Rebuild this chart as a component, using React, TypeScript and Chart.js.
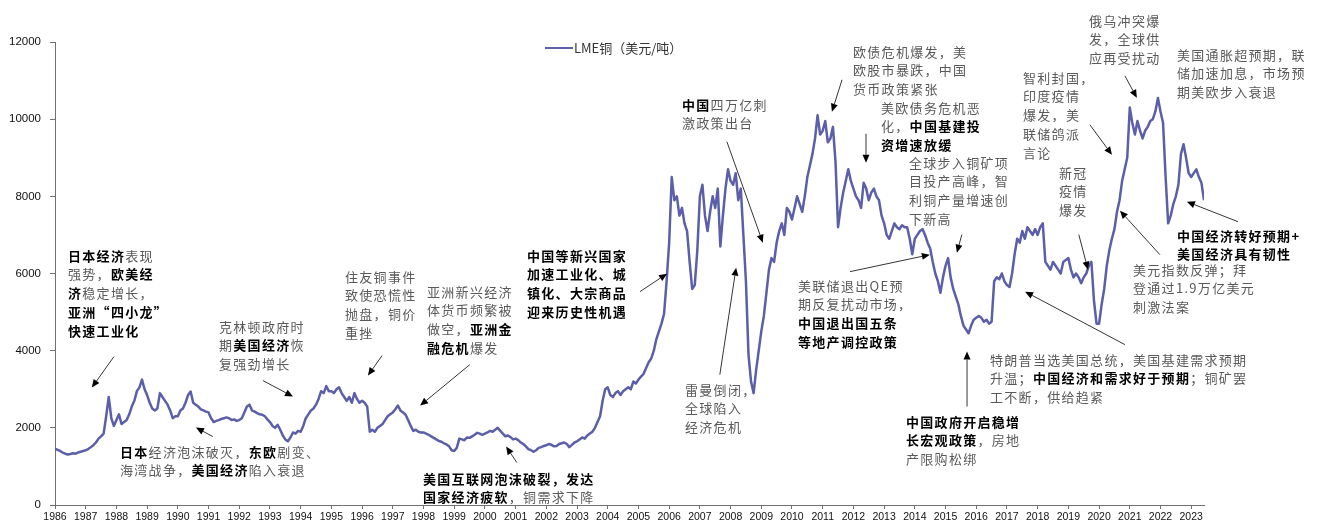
import React, { useEffect, useRef } from "react";
import { Chart, registerables } from "chart.js";

Chart.register(...registerables);

// ---------- DATA (monthly LME copper, USD/t) ----------
const START_YEAR = 1986;
const cu1986_1990 = [
  1460, 1430, 1400, 1360, 1330, 1310, 1320, 1340, 1330, 1360, 1380, 1400,
  1420, 1450, 1500, 1550, 1620, 1720, 1780, 1850, 2300, 2800, 2250, 2050,
  2200, 2350, 2100, 2150, 2200, 2350, 2550, 2700, 2950, 3050, 3250, 3000,
  2850, 2650, 2500, 2450, 2500, 2900, 2800, 2700, 2600, 2450, 2250, 2300,
  2300, 2450, 2500, 2650, 2850, 2940, 2650, 2600, 2550, 2480, 2450, 2420,
];
const cu1991_1995 = [
  2400, 2250, 2150, 2180, 2200, 2230, 2250, 2270, 2250, 2200, 2220, 2180,
  2200, 2250, 2400, 2550, 2600, 2450, 2420, 2380, 2350, 2340, 2300, 2220,
  2150, 2050, 2000, 2080, 1950, 1800, 1700, 1650, 1750, 1880, 1850, 1920,
  1900, 2050, 2250, 2350, 2450, 2500, 2600, 2750, 2950, 2900, 3080, 2950,
  2950, 2900, 3000, 3050, 2900, 2800, 2700, 2800, 2650, 2900, 2750, 2650,
];
const cu1996_2000 = [
  2700, 2650, 2550, 1900, 1950, 1900, 2000, 2050, 2100, 2200, 2300, 2350,
  2400, 2480, 2580, 2450, 2400, 2340, 2200, 2050, 1920, 1950, 1900, 1880,
  1880, 1850, 1820, 1780, 1740, 1700, 1660, 1640, 1600, 1570, 1520, 1420,
  1400, 1480, 1720, 1700, 1680, 1750, 1740, 1780, 1820, 1870, 1850, 1820,
  1850, 1880, 1920, 1900, 1950, 2000, 1920, 1850, 1780, 1800, 1760, 1700,
];
const cu2001_2005 = [
  1720, 1680, 1620, 1580, 1520, 1450, 1420, 1380, 1420, 1480, 1500, 1530,
  1550, 1580, 1560, 1520, 1530, 1580, 1600, 1620, 1580, 1500, 1560, 1620,
  1650, 1700, 1750, 1720, 1800, 1850, 1900, 2000, 2150, 2300, 2700, 3000,
  3050, 2850, 2800, 2900, 2950, 2850, 2950, 3000, 3050, 3000, 3200, 3150,
  3250, 3330, 3400, 3550, 3700, 3800, 4000, 4300, 4500, 4700, 4950, 5800,
];
const cu2006_2010 = [
  6800, 8500, 7900, 8000, 7500, 7700, 7300, 7100, 6300, 5600, 5700, 6600,
  8000, 8300, 7500, 7100, 7600, 8000, 7700, 8200, 6700, 7500, 8200, 8700,
  8400, 8300, 8600, 7900, 8200, 7000, 5800, 3900, 3200, 2900, 3500, 4000,
  4500, 4900, 5500, 6100, 6400, 6300, 6800, 7100, 7300, 7000, 7700, 7600,
  7400, 7700, 8000, 7800, 7600, 8000, 8500, 8800, 9100, 9500, 10100, 9600,
];
const cu2011_2015 = [
  9700, 9950, 9400, 9500, 9800, 8900, 7200, 7700, 8100, 8400, 8700, 8400,
  8200, 8000, 7900, 7700, 8350, 8200, 7900, 8100, 8200, 8000, 7900, 7500,
  7300, 7000, 6900, 7100, 7300, 7200, 7150, 7250, 7200, 7200, 6900, 6500,
  6900, 7000, 7100, 7150, 7000, 6800, 6650, 6300, 6000, 5800, 5500, 5900,
  6200, 6400, 5900, 5600, 5400, 5200, 4900, 4650, 4550, 4450, 4650, 4800,
];
const cu2016_2020 = [
  4850, 4900, 4850, 4750, 4800, 4700, 4750, 5800, 5900, 5850, 6000, 5800,
  5700, 5650, 6000, 6500, 6900, 6800, 7100, 6900, 7200, 7100, 7000, 7150,
  7000, 7200, 7300, 6300, 6200, 6100, 6300, 6200, 6100, 6000, 6300, 6350,
  6400, 6100, 5900, 6000, 5900, 5750, 5900, 6000, 6200, 6300, 5300, 4700,
  4700, 5200, 5600, 6200, 6600, 6900, 7150, 7600, 7900, 8400, 8700, 9000,
];
const cu2021_2023 = [
  10300, 9900, 9600, 9950, 9700, 9500, 9700, 9800, 9950, 10000, 10200, 10550,
  10200, 9900, 8500, 7300, 7500, 7800, 8000, 8300, 9100, 9350, 9000, 8600,
  8500, 8600, 8700, 8500, 8350, 7900,
];
const PRICE = [
  ...cu1986_1990, ...cu1991_1995, ...cu1996_2000, ...cu2001_2005,
  ...cu2006_2010, ...cu2011_2015, ...cu2016_2020, ...cu2021_2023,
];
const YEAR_LABELS = Array.from({ length: 38 }, (_, k) => START_YEAR + k); // 1986..2023
const Y_TICKS = [0, 2000, 4000, 6000, 8000, 10000, 12000];
const SERIES_NAME = "LME铜（美元/吨）";

// Arrows in data coordinates [year, USD/t]
const ARROWS: { from: [number, number]; to: [number, number] }[] = [
  { from: [1987.92, 3846], to: [1987.2, 3043] },
  { from: [1992.77, 3225], to: [1993.75, 2810] },
  { from: [1991.14, 1774], to: [1990.59, 2007] },
  { from: [1996.65, 3872], to: [1996.19, 3354] },
  { from: [1999.51, 3639], to: [1997.89, 2577] },
  { from: [2005.05, 5530], to: [2005.93, 5996] },
  { from: [2001.04, 1101], to: [2000.69, 1515] },
  { from: [2007.88, 9415], to: [2009.05, 6799] },
  { from: [2007.65, 3380], to: [2008.18, 6151] },
  { from: [2011.63, 11020], to: [2011.3, 10192] },
  { from: [2012.41, 9622], to: [2012.41, 8871] },
  { from: [2015.53, 7006], to: [2015.37, 6540] },
  { from: [2011.89, 6048], to: [2014.49, 6488] },
  { from: [2015.7, 2551], to: [2015.7, 3976] },
  { from: [2020.84, 4157], to: [2017.59, 5530] },
  { from: [2019.34, 7006], to: [2019.64, 6099] },
  { from: [2019.7, 9855], to: [2020.42, 9078] },
  { from: [2020.84, 11124], to: [2021.23, 10554] },
  { from: [2024.52, 7343], to: [2022.86, 7861] },
  { from: [2021.98, 6488], to: [2020.68, 7628] },
];

// Annotation texts (**...** = bold), position = left, centre of first line
const NOTES: { left: number; cy: number; lines: string[] }[] = [
  { left: 68, cy: 256, lines: ["**日本经济**表现", "强势，**欧美经**", "**济**稳定增长，", "**亚洲“四小龙”**", "**快速工业化**"] },
  { left: 219, cy: 327, lines: ["克林顿政府时", "期**美国经济**恢", "复强劲增长"] },
  { left: 120, cy: 452, lines: ["**日本**经济泡沫破灭，**东欧**剧变、", "海湾战争，**美国经济**陷入衰退"] },
  { left: 345, cy: 277, lines: ["住友铜事件", "致使恐慌性", "抛盘，铜价", "重挫"] },
  { left: 427, cy: 292, lines: ["亚洲新兴经济", "体货币频繁被", "做空，**亚洲金**", "**融危机**爆发"] },
  { left: 527, cy: 256, lines: ["**中国等新兴国家**", "**加速工业化、城**", "**镇化、大宗商品**", "**迎来历史性机遇**"] },
  { left: 423, cy: 479, lines: ["**美国互联网泡沫破裂，发达**", "**国家经济疲软**，铜需求下降"] },
  { left: 682, cy: 105, lines: ["**中国**四万亿刺", "激政策出台"] },
  { left: 685, cy: 390, lines: ["雷曼倒闭，", "全球陷入", "经济危机"] },
  { left: 853, cy: 52, lines: ["欧债危机爆发，美", "欧股市暴跌，中国", "货币政策紧张"] },
  { left: 881, cy: 108, lines: ["美欧债务危机恶", "化，**中国基建投**", "**资增速放缓**"] },
  { left: 909, cy: 163, lines: ["全球步入铜矿项", "目投产高峰，智", "利铜产量增速创", "下新高"] },
  { left: 798, cy: 286, lines: ["美联储退出QE预", "期反复扰动市场，", "**中国退出国五条**", "**等地产调控政策**"] },
  { left: 906, cy: 422, lines: ["**中国政府开启稳增**", "**长宏观政策**，房地", "产限购松绑"] },
  { left: 990, cy: 360, lines: ["特朗普当选美国总统，美国基建需求预期", "升温；**中国经济和需求好于预期**；铜矿罢", "工不断，供给趋紧"] },
  { left: 1059, cy: 173, lines: ["新冠", "疫情", "爆发"] },
  { left: 1023, cy: 78, lines: ["智利封国，", "印度疫情", "爆发，美", "联储鸽派", "言论"] },
  { left: 1089, cy: 21, lines: ["俄乌冲突爆", "发，全球供", "应再受扰动"] },
  { left: 1177, cy: 55, lines: ["美国通胀超预期，联", "储加速加息，市场预", "期美欧步入衰退"] },
  { left: 1177, cy: 236, lines: ["**中国经济转好预期+**", "**美国经济具有韧性**"] },
  { left: 1133, cy: 270, lines: ["美元指数反弹；拜", "登通过1.9万亿美元", "刺激法案"] },
];

const LINE_COLOR = "#5B5EA8";
const LINE_H = 18.8;
const CJK_FONT = '"Noto Sans CJK SC", "Noto Sans", sans-serif';
const NUM_FONT = '"Liberation Sans", Arial, sans-serif';

function renderLine(s: string, key: number) {
  const parts = s.split("**");
  return (
    <div key={key}>
      {parts.map((p, i) =>
        i % 2 === 1 ? (
          <span key={i} style={{ fontWeight: 700, color: "#000" }}>{p}</span>
        ) : (
          <span key={i}>{p}</span>
        )
      )}
    </div>
  );
}

const arrowPlugin = {
  id: "arrows",
  afterDraw(chart: any) {
    const { ctx } = chart;
    const xs = chart.scales.x;
    const ys = chart.scales.y;
    ctx.save();
    ctx.strokeStyle = "#000";
    ctx.fillStyle = "#000";
    ctx.lineWidth = 0.8;
    for (const a of ARROWS) {
      const x1 = xs.getPixelForValue(a.from[0]);
      const y1 = ys.getPixelForValue(a.from[1]);
      const x2 = xs.getPixelForValue(a.to[0]);
      const y2 = ys.getPixelForValue(a.to[1]);
      const ang = Math.atan2(y2 - y1, x2 - x1);
      const head = 8;
      const w = 3.5;
      const bx = x2 - head * Math.cos(ang);
      const by = y2 - head * Math.sin(ang);
      ctx.beginPath();
      ctx.moveTo(x1, y1);
      ctx.lineTo(bx, by);
      ctx.stroke();
      ctx.beginPath();
      ctx.moveTo(x2, y2);
      ctx.lineTo(bx + w * Math.sin(ang), by - w * Math.cos(ang));
      ctx.lineTo(bx - w * Math.sin(ang), by + w * Math.cos(ang));
      ctx.closePath();
      ctx.fill();
    }
    ctx.restore();
  },
};

export default function App() {
  const canvasRef = useRef<HTMLCanvasElement | null>(null);

  useEffect(() => {
    const canvas = canvasRef.current;
    if (!canvas) return;
    const points = PRICE.map((v, i) => ({ x: START_YEAR + i / 12, y: v }));
    const lastX = START_YEAR + (PRICE.length - 1) / 12;
    const chart = new Chart(canvas, {
      type: "line",
      data: {
        datasets: [
          {
            label: SERIES_NAME,
            data: points,
            borderColor: LINE_COLOR,
            borderWidth: 2.5,
            borderJoinStyle: "round",
            pointRadius: 0,
            tension: 0,
            fill: false,
          },
        ],
      },
      options: {
        responsive: false,
        animation: false,
        devicePixelRatio: 1,
        layout: { padding: { left: 0, right: 113, top: 42, bottom: 0 } },
        plugins: { legend: { display: false }, tooltip: { enabled: false } },
        scales: {
          x: {
            type: "linear",
            min: START_YEAR,
            max: lastX,
            afterBuildTicks: (s: any) => {
              s.ticks = YEAR_LABELS.map((v) => ({ value: v }));
            },
            afterFit: (s: any) => {
              s.height = 21;
            },
            ticks: {
              stepSize: 1,
              maxTicksLimit: 60,
              includeBounds: false,
              autoSkip: false,
              maxRotation: 0,
              padding: 2,
              color: "#111",
              font: { family: NUM_FONT, size: 10.5 },
              callback: (v: any) => String(v),
            },
            grid: { display: true, drawOnChartArea: false, drawTicks: true, tickLength: 4, color: "#707070" },
            border: { display: true, color: "#707070", width: 1 },
          },
          y: {
            min: 0,
            max: 12000,
            afterBuildTicks: (s: any) => {
              s.ticks = Y_TICKS.map((v) => ({ value: v }));
            },
            afterFit: (s: any) => {
              s.width = 55;
            },
            ticks: {
              stepSize: 2000,
              padding: 9,
              color: "#111",
              font: { family: NUM_FONT, size: 11.5 },
              callback: (v: any) => String(v),
            },
            grid: { display: true, drawOnChartArea: false, drawTicks: true, tickLength: 5, color: "#707070" },
            border: { display: true, color: "#707070", width: 1 },
          },
        },
      },
      plugins: [arrowPlugin],
    } as any);
    return () => chart.destroy();
  }, []);

  return (
    <div style={{ position: "absolute", left: 0, top: 0, width: 1317, height: 526, background: "#fff", overflow: "hidden" }}>
      <canvas ref={canvasRef} width={1317} height={526} style={{ position: "absolute", left: 0, top: 0, width: 1317, height: 526 }} />
      {/* legend */}
      <div style={{ position: "absolute", left: 545, top: 47, width: 28, height: 2, background: LINE_COLOR }} />
      <div style={{ position: "absolute", left: 574, top: 39, fontFamily: CJK_FONT, fontSize: 13, lineHeight: "18px", color: "#333", whiteSpace: "pre" }}>
        {SERIES_NAME}
      </div>
      {NOTES.map((n, i) => (
        <div
          key={i}
          style={{
            position: "absolute",
            left: n.left,
            top: n.cy - LINE_H / 2,
            fontFamily: CJK_FONT,
            fontSize: 13,
            letterSpacing: "1.3px",
            lineHeight: `${LINE_H}px`,
            color: "#595959",
            whiteSpace: "pre",
          }}
        >
          {n.lines.map((l, k) => renderLine(l, k))}
        </div>
      ))}
    </div>
  );
}
